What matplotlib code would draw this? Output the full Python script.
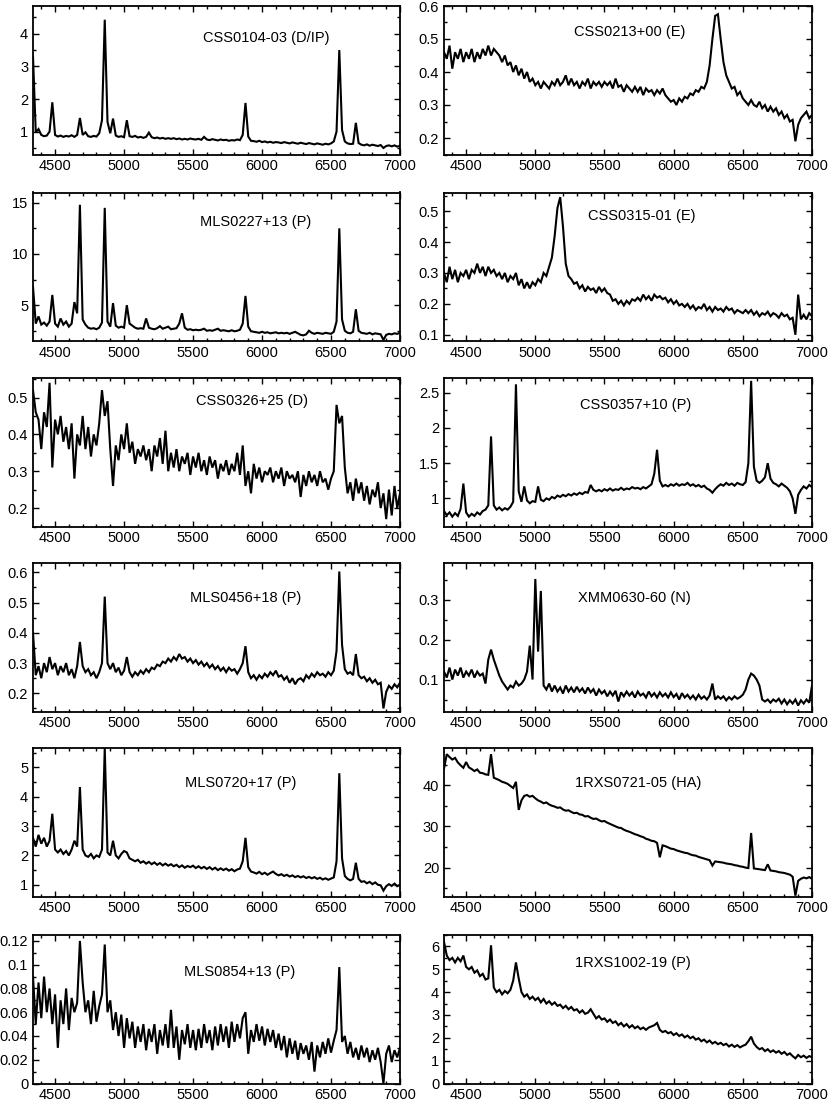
import numpy as np
import matplotlib
matplotlib.use("Agg")
import matplotlib.pyplot as plt
from matplotlib.ticker import MultipleLocator, AutoMinorLocator, FuncFormatter

plt.rcParams['font.family'] = ['Liberation Sans', 'DejaVu Sans']

# wavelength grid of the spectra (Angstrom), 20 A steps
wave = np.arange(4340, 7001, 20)

# fluxes, one value per grid point
css0104 = [3.3, 0.98, 1.08, 0.9, 0.86, 0.88, 1.0, 1.9, 0.9, 0.85,
           0.88, 0.84, 0.87, 0.85, 0.89, 0.84, 0.9, 1.42, 0.9, 0.98,
           0.86, 0.84, 0.87, 0.85, 0.95, 1.35, 4.43, 1.3, 0.95, 1.4,
           0.88, 0.84, 0.86, 0.83, 1.35, 0.86, 0.84, 0.87, 0.82, 0.84,
           0.81, 0.84, 0.97, 0.83, 0.8, 0.82, 0.79, 0.81, 0.78, 0.8,
           0.78, 0.8, 0.77, 0.79, 0.76, 0.78, 0.76, 0.79, 0.77, 0.76,
           0.78, 0.75, 0.84, 0.76, 0.74, 0.77, 0.75, 0.73, 0.76, 0.74,
           0.75, 0.72, 0.74, 0.73, 0.76, 0.74, 0.9, 1.88, 0.85, 0.72,
           0.71, 0.69, 0.72, 0.68, 0.7, 0.67, 0.69, 0.66, 0.68, 0.67,
           0.65, 0.68, 0.66, 0.64, 0.67, 0.65, 0.63, 0.66, 0.64, 0.62,
           0.65, 0.63, 0.61, 0.64, 0.62, 0.6, 0.63, 0.61, 0.64, 0.7,
           1.0, 3.5, 1.05, 0.7, 0.64, 0.62, 0.63, 1.27, 0.65, 0.6,
           0.58, 0.61, 0.57, 0.6, 0.58, 0.56, 0.59, 0.5, 0.56, 0.58,
           0.55, 0.58, 0.54, 0.57]

css0213 = [0.46, 0.44, 0.48, 0.41, 0.46, 0.44, 0.47, 0.43, 0.46, 0.44,
           0.47, 0.43, 0.46, 0.44, 0.47, 0.45, 0.48, 0.45, 0.47, 0.46,
           0.45, 0.43, 0.45, 0.42, 0.43, 0.4, 0.42, 0.39, 0.41, 0.38,
           0.4, 0.37, 0.38, 0.36, 0.37, 0.35, 0.37, 0.36, 0.35, 0.37,
           0.36, 0.38, 0.36, 0.37, 0.39, 0.36, 0.38, 0.36, 0.37, 0.35,
           0.37, 0.36, 0.38, 0.35, 0.37, 0.36, 0.37, 0.355, 0.37, 0.36,
           0.37, 0.35, 0.38, 0.355, 0.36, 0.34, 0.36, 0.35, 0.34, 0.355,
           0.34, 0.355, 0.33, 0.35, 0.34, 0.345, 0.33, 0.345, 0.335, 0.35,
           0.33, 0.32, 0.31, 0.315, 0.3, 0.32, 0.31, 0.325, 0.32, 0.335,
           0.33, 0.345, 0.34, 0.355, 0.35, 0.37, 0.42, 0.5, 0.57, 0.575,
           0.5, 0.43, 0.39, 0.37, 0.35, 0.355, 0.33, 0.34, 0.32, 0.31,
           0.3, 0.315, 0.3, 0.295, 0.31, 0.29, 0.3, 0.28, 0.295, 0.28,
           0.29, 0.27, 0.28, 0.26, 0.27, 0.25, 0.255, 0.19, 0.24, 0.26,
           0.27, 0.28, 0.26, 0.27]

mls0227 = [6.8, 3.2, 3.9, 3.1, 3.3, 3.0, 3.4, 6.0, 3.2, 2.9,
           3.7, 3.1, 3.4, 2.9, 3.2, 5.3, 4.2, 14.8, 3.6, 3.1,
           2.8, 2.7, 2.75, 2.65, 2.8, 3.3, 14.5, 3.4, 2.9, 5.2,
           3.0, 2.8, 2.9, 2.8, 5.0, 3.2, 3.0, 2.8, 2.7, 2.75,
           2.7, 3.7, 2.8, 2.7, 2.65, 2.75, 2.95, 2.7, 2.8, 2.9,
           2.65, 2.7, 2.75, 3.2, 4.2, 2.8, 2.6, 2.65, 2.55, 2.6,
           2.55, 2.6, 2.7, 2.5, 2.55, 2.5, 2.6, 2.7, 2.5, 2.55,
           2.5, 2.45, 2.55, 2.45, 2.5, 2.6, 3.2, 5.9, 2.9, 2.45,
           2.4, 2.35, 2.3, 2.4, 2.3, 2.35, 2.25, 2.3, 2.35, 2.25,
           2.3, 2.25, 2.3, 2.2, 2.3, 2.4, 2.25, 2.1, 2.05, 2.15,
           2.5, 2.3, 2.2, 2.3, 2.25, 2.2, 2.3, 2.25, 2.2, 2.4,
           3.4, 12.5, 3.6, 2.5, 2.3, 2.25, 2.4, 4.6, 2.5, 2.3,
           2.25, 2.2, 2.3, 2.15, 2.25, 2.2, 2.15, 1.6, 2.1, 2.2,
           2.15, 2.25, 2.2, 2.3]

css0315 = [0.3, 0.27, 0.32, 0.28, 0.31, 0.27, 0.3, 0.29, 0.31, 0.28,
           0.31, 0.3, 0.33, 0.3, 0.32, 0.29, 0.32, 0.3, 0.31, 0.29,
           0.3, 0.28, 0.3, 0.27, 0.29, 0.28, 0.3, 0.26, 0.28, 0.25,
           0.27, 0.25, 0.27, 0.26, 0.28, 0.27, 0.3, 0.29, 0.32, 0.35,
           0.42, 0.51, 0.545, 0.45, 0.33, 0.29, 0.28, 0.265, 0.27, 0.25,
           0.26, 0.24, 0.255, 0.245, 0.25, 0.235, 0.255, 0.24, 0.25, 0.235,
           0.23, 0.21, 0.215, 0.2, 0.21, 0.195, 0.21, 0.2, 0.215, 0.21,
           0.22, 0.21, 0.23, 0.215, 0.225, 0.21, 0.23, 0.22, 0.225, 0.215,
           0.22, 0.205, 0.215, 0.2, 0.21, 0.195, 0.2, 0.19, 0.2, 0.185,
           0.195, 0.18, 0.19, 0.185, 0.2, 0.18, 0.19, 0.175, 0.19, 0.18,
           0.185, 0.175, 0.19, 0.18, 0.185, 0.17, 0.18, 0.175, 0.17, 0.18,
           0.17, 0.18, 0.165, 0.175, 0.16, 0.17, 0.165, 0.175, 0.16, 0.17,
           0.165, 0.155, 0.17, 0.16, 0.165, 0.15, 0.155, 0.1, 0.23, 0.15,
           0.165, 0.15, 0.17, 0.16]

css0326 = [0.52, 0.46, 0.44, 0.36, 0.46, 0.42, 0.54, 0.31, 0.44, 0.4,
           0.45, 0.38, 0.42, 0.36, 0.43, 0.28, 0.4, 0.37, 0.45, 0.36,
           0.42, 0.34, 0.4, 0.37, 0.43, 0.52, 0.45, 0.49, 0.36, 0.26,
           0.37, 0.33, 0.4, 0.36, 0.43, 0.35, 0.38, 0.32, 0.36, 0.34,
           0.37, 0.33, 0.36, 0.3, 0.37, 0.34, 0.39, 0.32, 0.41, 0.3,
           0.35, 0.31, 0.36, 0.3, 0.34, 0.32, 0.35, 0.29, 0.34, 0.31,
           0.35, 0.3, 0.33, 0.29, 0.34, 0.31, 0.33, 0.28, 0.32, 0.3,
           0.33, 0.29, 0.32, 0.3, 0.35, 0.29, 0.37, 0.26, 0.3, 0.24,
           0.32, 0.28, 0.31, 0.27, 0.3, 0.29, 0.31, 0.27, 0.3, 0.28,
           0.31, 0.26, 0.3, 0.28, 0.29, 0.27, 0.3, 0.23, 0.29, 0.26,
           0.3, 0.27, 0.29, 0.26, 0.3, 0.27, 0.28, 0.25, 0.28, 0.3,
           0.48, 0.43, 0.45, 0.31, 0.24, 0.27, 0.22, 0.28, 0.24, 0.27,
           0.22, 0.26, 0.21, 0.25, 0.23, 0.27, 0.2, 0.24, 0.17, 0.25,
           0.18, 0.26, 0.2, 0.24]

css0357 = [0.82, 0.76, 0.8, 0.74, 0.79, 0.75, 0.85, 1.21, 0.8, 0.74,
           0.78, 0.75, 0.8, 0.77, 0.82, 0.84, 0.9, 1.88, 0.9, 0.84,
           0.87, 0.83, 0.86, 0.84, 0.88, 0.95, 2.62, 1.1, 0.95, 1.17,
           0.97, 0.93, 0.96, 0.95, 1.17, 0.98, 0.96, 1.0, 0.98, 1.02,
           1.0, 1.04, 1.02, 1.05, 1.03, 1.06, 1.04, 1.07, 1.05, 1.08,
           1.06, 1.09, 1.08, 1.19, 1.12, 1.1, 1.12, 1.1, 1.13, 1.11,
           1.14, 1.11, 1.13, 1.12, 1.15, 1.12, 1.14, 1.13, 1.16, 1.14,
           1.15, 1.13, 1.16, 1.14, 1.17, 1.2, 1.35, 1.69, 1.25, 1.17,
           1.19, 1.17, 1.2, 1.18, 1.21, 1.18, 1.2, 1.19, 1.22, 1.18,
           1.2, 1.17, 1.19, 1.16, 1.18, 1.14, 1.12, 1.08, 1.13, 1.17,
           1.2, 1.18, 1.22, 1.19, 1.21, 1.18, 1.22, 1.2, 1.19, 1.23,
           1.5, 2.67, 1.45, 1.25, 1.22, 1.25, 1.3, 1.5, 1.28, 1.22,
           1.2, 1.17, 1.21, 1.18, 1.15, 1.1, 1.0, 0.78, 1.05, 1.12,
           1.17, 1.14, 1.19, 1.16]

mls0456 = [0.4, 0.26, 0.29, 0.25, 0.3, 0.27, 0.32, 0.28, 0.3, 0.26,
           0.29, 0.27, 0.3, 0.26, 0.28, 0.25, 0.29, 0.37, 0.29, 0.27,
           0.28, 0.26, 0.27, 0.25, 0.27, 0.3, 0.52, 0.3, 0.28, 0.3,
           0.27, 0.285, 0.26, 0.275, 0.32, 0.27, 0.255, 0.27, 0.26, 0.275,
           0.265, 0.28, 0.27, 0.285, 0.28, 0.295, 0.29, 0.305, 0.3, 0.315,
           0.305, 0.32, 0.31, 0.33, 0.315, 0.32, 0.305, 0.315, 0.3, 0.31,
           0.295, 0.305, 0.29, 0.3, 0.285, 0.295, 0.28, 0.29, 0.275, 0.285,
           0.27, 0.285, 0.275, 0.28, 0.265, 0.28, 0.3, 0.356, 0.27, 0.25,
           0.26, 0.245, 0.26, 0.25, 0.265, 0.255, 0.27, 0.26, 0.275, 0.255,
           0.26, 0.245, 0.255, 0.235, 0.25, 0.23, 0.245, 0.25, 0.24, 0.26,
           0.25, 0.265, 0.255, 0.27, 0.26, 0.265, 0.255, 0.27, 0.26, 0.275,
           0.34, 0.603, 0.36, 0.28, 0.265, 0.27, 0.26, 0.33, 0.26, 0.25,
           0.255, 0.24, 0.25, 0.235, 0.245, 0.23, 0.235, 0.15, 0.205, 0.225,
           0.215, 0.23, 0.22, 0.235]

xmm0630 = [0.12, 0.105, 0.13, 0.1, 0.125, 0.11, 0.13, 0.105, 0.12, 0.11,
           0.125, 0.105, 0.12, 0.11, 0.115, 0.09, 0.15, 0.175, 0.15, 0.13,
           0.11, 0.095, 0.085, 0.075, 0.085, 0.08, 0.095, 0.085, 0.09, 0.1,
           0.12, 0.185, 0.1, 0.352, 0.17, 0.322, 0.085, 0.075, 0.09, 0.07,
           0.085, 0.07, 0.08, 0.065, 0.085, 0.07, 0.08, 0.068, 0.082, 0.07,
           0.078, 0.065, 0.08, 0.068, 0.076, 0.06, 0.075, 0.065, 0.072, 0.058,
           0.07, 0.06, 0.072, 0.045, 0.068, 0.058, 0.07, 0.06, 0.068, 0.055,
           0.07, 0.06, 0.065, 0.055, 0.07, 0.058, 0.066, 0.055, 0.068, 0.058,
           0.065, 0.055, 0.068, 0.056, 0.064, 0.05, 0.066, 0.055, 0.062, 0.052,
           0.06, 0.05, 0.062, 0.052, 0.058, 0.05, 0.06, 0.09, 0.05, 0.058,
           0.052, 0.058, 0.048, 0.056, 0.05, 0.058, 0.052, 0.056, 0.062, 0.075,
           0.1, 0.115, 0.11, 0.1, 0.085, 0.05, 0.045, 0.05, 0.042, 0.05,
           0.045, 0.052, 0.04, 0.05, 0.038, 0.048, 0.04, 0.05, 0.035, 0.048,
           0.04, 0.05, 0.042, 0.085]

mls0720 = [2.6, 2.3, 2.7, 2.4, 2.6, 2.3, 2.5, 3.42, 2.2, 2.1,
           2.2, 2.05, 2.15, 2.0, 2.2, 2.5, 2.3, 4.33, 2.2, 2.0,
           1.95, 2.05, 1.9, 2.0, 1.95, 2.2, 5.65, 2.1, 2.0, 2.5,
           2.0, 1.9, 2.05, 2.15, 2.1, 1.9, 1.85, 1.8, 1.85, 1.75,
           1.8, 1.72, 1.78, 1.7, 1.76, 1.68, 1.74, 1.66, 1.72, 1.65,
           1.7, 1.63, 1.68, 1.6, 1.66, 1.58, 1.64, 1.6, 1.65, 1.57,
           1.63, 1.56, 1.61, 1.54, 1.6, 1.52, 1.58, 1.5, 1.56, 1.5,
           1.55, 1.48, 1.53, 1.46, 1.52, 1.55, 1.8, 2.6, 1.6, 1.45,
           1.42, 1.38, 1.44, 1.36, 1.41, 1.34, 1.4, 1.45, 1.37, 1.32,
           1.36, 1.3, 1.34, 1.28, 1.32, 1.26, 1.3, 1.25, 1.29, 1.23,
           1.27, 1.22, 1.26, 1.2, 1.24, 1.18, 1.22, 1.17, 1.21, 1.25,
           1.8, 4.8, 1.9, 1.3, 1.2, 1.15, 1.2, 1.75, 1.2, 1.1,
           1.12, 1.05, 1.1, 1.02, 1.08, 1.0, 0.98, 0.8, 0.95, 1.02,
           0.96, 1.04, 0.95, 1.0]

rxs0721 = [44.0, 47.5, 46.8, 46.2, 46.6, 45.5, 44.8, 44.2, 45.6, 44.3,
           43.9, 43.4, 43.8, 43.0, 42.9, 42.6, 42.5, 47.5, 41.8, 41.5,
           41.2, 40.8, 40.6, 40.3, 39.8, 39.3, 40.8, 34.0, 36.3, 37.4,
           37.6, 37.2, 37.4, 36.8, 36.3, 36.0, 35.6, 35.8, 35.3, 35.0,
           34.8, 34.5, 34.6, 34.1, 33.8, 33.9, 33.5, 33.2, 33.3, 32.9,
           32.8, 32.4, 32.5, 32.1, 31.8, 31.9, 31.5, 31.2, 31.3, 30.9,
           30.6, 30.3, 30.0, 29.7, 29.6, 29.2, 28.9, 28.7, 28.4, 28.1,
           27.9, 27.6, 27.4, 27.0, 26.8, 26.5, 26.4, 26.0, 22.5, 25.4,
           25.2, 24.9, 24.6, 24.5, 24.2, 24.0, 23.8, 23.6, 23.5, 23.2,
           23.0, 22.9, 22.6, 22.4, 22.2, 22.0, 21.8, 20.5, 21.5, 21.4,
           21.3, 21.2, 21.0, 20.9, 20.8, 20.6, 20.5, 20.3, 20.2, 20.0,
           19.9, 28.4, 19.8, 19.7, 19.6, 19.5, 19.4, 20.8, 19.3, 19.2,
           19.1, 18.9, 18.8, 18.7, 18.5, 18.3, 17.8, 13.2, 16.8, 17.3,
           17.6, 17.4, 17.7, 17.3]

mls0854 = [0.09, 0.05, 0.085, 0.055, 0.09, 0.06, 0.08, 0.05, 0.075, 0.03,
           0.07, 0.05, 0.08, 0.045, 0.072, 0.06, 0.068, 0.12, 0.085, 0.06,
           0.07, 0.05, 0.078, 0.052, 0.065, 0.075, 0.117, 0.06, 0.07, 0.045,
           0.06, 0.04, 0.058, 0.03, 0.055, 0.038, 0.052, 0.03, 0.048, 0.035,
           0.05, 0.028, 0.046, 0.035, 0.05, 0.025, 0.045, 0.032, 0.05, 0.03,
           0.062, 0.03, 0.048, 0.02, 0.045, 0.033, 0.05, 0.03, 0.045, 0.028,
           0.046, 0.03, 0.05, 0.034, 0.045, 0.028, 0.048, 0.032, 0.05, 0.035,
           0.048, 0.03, 0.052, 0.035, 0.05, 0.038, 0.055, 0.06, 0.025, 0.045,
           0.035, 0.05, 0.036, 0.048, 0.032, 0.046, 0.035, 0.045, 0.03, 0.042,
           0.028, 0.04, 0.022, 0.038, 0.025, 0.036, 0.02, 0.034, 0.025, 0.032,
           0.02, 0.035, 0.01, 0.032, 0.022, 0.035, 0.025, 0.038, 0.026, 0.036,
           0.045, 0.098, 0.035, 0.04, 0.025, 0.035, 0.022, 0.03, 0.02, 0.032,
           0.022, 0.03, 0.018, 0.028, 0.02, 0.03, 0.018, 0.0, 0.025, 0.032,
           0.018, 0.028, 0.022, 0.03]

rxs1002 = [6.2, 5.6, 5.4, 5.5, 5.3, 5.5, 5.35, 5.6, 5.1, 5.0,
           5.1, 4.85, 4.95, 4.7, 4.8, 4.55, 4.6, 6.05, 4.2, 4.0,
           4.1, 3.9, 4.05, 3.95, 4.1, 4.5, 5.3, 4.6, 4.0, 3.8,
           3.9, 3.7, 3.8, 3.65, 3.75, 3.55, 3.7, 3.5, 3.6, 3.45,
           3.55, 3.4, 3.45, 3.3, 3.4, 3.25, 3.35, 3.2, 3.25, 3.1,
           3.2, 3.05, 3.1, 3.25, 3.05, 2.85, 2.95, 2.8, 2.85, 2.7,
           2.8, 2.65, 2.72, 2.55, 2.65, 2.5, 2.6, 2.45, 2.55, 2.42,
           2.5, 2.38, 2.45, 2.35, 2.45, 2.5, 2.55, 2.65, 2.35, 2.25,
           2.3, 2.2, 2.25, 2.12, 2.2, 2.08, 2.15, 2.02, 2.1, 1.98,
           2.05, 1.92, 1.98, 1.85, 1.92, 1.8, 1.88, 1.75, 1.82, 1.72,
           1.78, 1.68, 1.74, 1.62, 1.7, 1.6, 1.68, 1.58, 1.65, 1.7,
           1.85, 2.05, 1.75, 1.6, 1.5, 1.55, 1.42, 1.5, 1.38, 1.45,
           1.35, 1.42, 1.3, 1.38, 1.25, 1.32, 1.2, 1.1, 1.25, 1.15,
           1.22, 1.12, 1.2, 1.15]

names = ["CSS0104-03 (D/IP)", "CSS0213+00 (E)", "MLS0227+13 (P)", "CSS0315-01 (E)",
         "CSS0326+25 (D)", "CSS0357+10 (P)", "MLS0456+18 (P)", "XMM0630-60 (N)",
         "MLS0720+17 (P)", "1RXS0721-05 (HA)", "MLS0854+13 (P)", "1RXS1002-19 (P)"]
fluxes = [css0104, css0213, mls0227, css0315, css0326, css0357,
          mls0456, xmm0630, mls0720, rxs0721, mls0854, rxs1002]
ylims = [(0.3, 4.85), (0.15, 0.6), (1.5, 16.0), (0.08, 0.56),
         (0.15, 0.553), (0.6, 2.71), (0.14, 0.631), (0.02, 0.392),
         (0.6, 5.66), (13.0, 49.0), (0.0, 0.125), (0.0, 6.5)]
ysteps = [1, 0.1, 5, 0.1, 0.1, 0.5, 0.1, 0.1, 1, 10, 0.02, 1]

# layout (pixels of the 830x1106 picture) and label spots in axes fraction
W, H = 830, 1106
col_x = [(33, 367), (444, 368)]
row_top = [6, 192.5, 378, 563, 748, 935]
row_h = 148.5
label_pos = [(0.635, 0.785), (0.505, 0.825), (0.607, 0.80), (0.538, 0.84),
             (0.598, 0.845), (0.52, 0.82), (0.578, 0.765), (0.518, 0.765),
             (0.566, 0.765), (0.527, 0.765), (0.562, 0.754), (0.512, 0.81)]

fig = plt.figure(figsize=(W / 100, H / 100), dpi=100)
fmt = FuncFormatter(lambda v, p: "%g" % round(v, 6))

for k in range(12):
    r, c = divmod(k, 2)
    x0, w = col_x[c]
    top = row_top[r]
    ax = fig.add_axes([x0 / W, 1 - (top + row_h) / H, w / W, row_h / H])
    ax.plot(wave, fluxes[k], color="black", lw=1.5, solid_joinstyle="miter")
    ax.set_xlim(4340, 7000)
    ax.set_ylim(*ylims[k])
    ax.xaxis.set_major_locator(MultipleLocator(500))
    ax.xaxis.set_minor_locator(MultipleLocator(100))
    ax.yaxis.set_major_locator(MultipleLocator(ysteps[k]))
    ax.yaxis.set_minor_locator(AutoMinorLocator(2))
    ax.yaxis.set_major_formatter(fmt)
    ax.tick_params(which="both", direction="in", top=True, right=True,
                   labelsize=10.5, width=1.0)
    ax.tick_params(which="major", length=4.5)
    ax.tick_params(which="minor", length=2.5)
    for s in ax.spines.values():
        s.set_linewidth(1.3)
    lx, ly = label_pos[k]
    ax.text(lx, ly, names[k], transform=ax.transAxes, ha="center", va="center",
            fontsize=10.5)

fig.savefig("out.png", dpi=100)
